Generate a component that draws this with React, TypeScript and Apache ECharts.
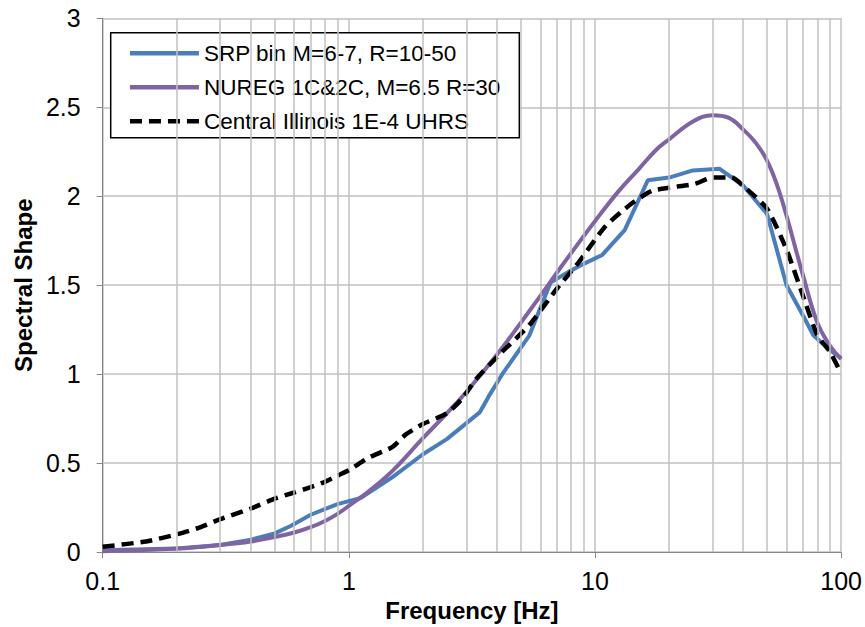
import React, { useEffect, useRef } from "react";
import * as echarts from "echarts";

const seriesNames = [
  "SRP bin M=6-7, R=10-50",
  "NUREG 1C&2C, M=6.5 R=30",
  "Central Illinois 1E-4 UHRS",
];

const srpFreq = [0.1, 0.2, 0.3, 0.4, 0.5, 0.58, 0.7, 0.9, 1.12, 1.5, 2, 2.5, 3.4, 3.7, 4.2, 5.4, 6.6, 7.8, 9, 10.7, 13.2, 16.4, 20, 25, 32, 40, 50, 60, 70, 77, 90, 100];
const srpShape = [0.01, 0.02, 0.04, 0.07, 0.105, 0.147, 0.21, 0.27, 0.305, 0.42, 0.55, 0.635, 0.785, 0.875, 1.0, 1.215, 1.515, 1.575, 1.62, 1.67, 1.81, 2.09, 2.105, 2.145, 2.155, 2.06, 1.9, 1.5, 1.33, 1.22, 1.135, 1.09];

const nuregFreq = [0.1, 0.2, 0.3, 0.4, 0.5, 0.6, 0.7, 0.8, 0.9, 1, 1.2, 1.5, 2, 2.5, 3, 4, 5, 6, 7, 8, 10, 12.5, 15, 17.7, 20, 25, 30, 35, 40, 45, 50, 55, 60, 70, 80, 90, 100];
const nuregShape = [0.005, 0.02, 0.04, 0.06, 0.085, 0.11, 0.14, 0.175, 0.215, 0.26, 0.34, 0.455, 0.64, 0.78, 0.9, 1.11, 1.29, 1.44, 1.57, 1.68, 1.86, 2.03, 2.15, 2.26, 2.32, 2.42, 2.455, 2.44, 2.375, 2.3, 2.2, 2.06, 1.89, 1.555, 1.29, 1.16, 1.085];

const uhrsFreq = [0.1, 0.15, 0.2, 0.25, 0.3, 0.4, 0.5, 0.6, 0.7, 0.8, 0.9, 1, 1.2, 1.5, 1.7, 2, 2.5, 2.9, 3.3, 4.2, 5.4, 7, 8.6, 11, 14, 17, 20.5, 25.5, 30, 36, 40, 50, 60, 70, 80, 90, 100];
const uhrsShape = [0.03, 0.06, 0.1, 0.14, 0.185, 0.245, 0.3, 0.335, 0.365, 0.395, 0.43, 0.46, 0.53, 0.59, 0.66, 0.72, 0.78, 0.865, 0.975, 1.126, 1.275, 1.48, 1.63, 1.83, 1.956, 2.03, 2.05, 2.07, 2.105, 2.105, 2.058, 1.93, 1.7, 1.44, 1.22, 1.126, 1.005];

// minor log grid positions (2..9 in each decade)
const decades = [0.1, 1, 10];
const minorMultipliers = [2, 3, 4, 5, 6, 7, 8, 9];

const FONT = 'Arial, "Liberation Sans", sans-serif';
const GRID_COLOR = "#c0c0c0";
const AXIS_COLOR = "#868686";

function pairs(xs: number[], ys: number[]) {
  return xs.map((x, i) => [x, ys[i]]);
}

export default function App() {
  const ref = useRef<HTMLDivElement>(null);

  useEffect(() => {
    if (!ref.current) return;
    const chart = echarts.init(ref.current, undefined, { renderer: "svg" });
    const minorLines: any[] = [];
    decades.forEach((d) =>
      minorMultipliers.forEach((m) => minorLines.push({ xAxis: +(d * m).toPrecision(6) }))
    );

    chart.setOption({
      animation: false,
      backgroundColor: "#ffffff",
      grid: { left: 102.7, right: 21.7, top: 18.3, bottom: 72.3 },
      legend: {
        orient: "vertical",
        left: 110.7,
        top: 32.7,
        padding: [9, 19, 5, 17],
        itemGap: 11,
        itemWidth: 69,
        itemHeight: 14,
        backgroundColor: "#ffffff",
        borderColor: "#000000",
        borderWidth: 1.5,
        borderRadius: 0,
        data: seriesNames,
        itemStyle: { opacity: 0 },
        lineStyle: { width: 4.5, cap: "butt" },
        textStyle: { fontFamily: FONT, fontSize: 22.5, color: "#000", lineHeight: 22 },
      },
      xAxis: {
        type: "log",
        logBase: 10,
        min: 0.1,
        max: 100,
        name: "Frequency [Hz]",
        nameLocation: "middle",
        nameGap: 42,
        nameTextStyle: { fontFamily: FONT, fontSize: 24, fontWeight: "bold", color: "#000" },
        axisLine: { show: true, lineStyle: { color: AXIS_COLOR, width: 1 } },
        axisTick: { show: true, length: 6, lineStyle: { color: AXIS_COLOR } },
        axisLabel: {
          fontFamily: FONT,
          fontSize: 25,
          color: "#000",
          margin: 16,
          formatter: (v: number) => String(+v.toPrecision(6)),
        },
        splitLine: { show: true, lineStyle: { color: GRID_COLOR, width: 1.5 } },
      },
      yAxis: {
        type: "value",
        min: 0,
        max: 3,
        interval: 0.5,
        name: "Spectral Shape",
        nameLocation: "middle",
        nameGap: 66,
        nameTextStyle: { fontFamily: FONT, fontSize: 24, fontWeight: "bold", color: "#000" },
        axisLine: { show: true, lineStyle: { color: AXIS_COLOR, width: 1 } },
        axisTick: { show: true, length: 6, lineStyle: { color: AXIS_COLOR } },
        axisLabel: { fontFamily: FONT, fontSize: 25, color: "#000", margin: 22 },
        splitLine: { show: true, lineStyle: { color: GRID_COLOR, width: 1.5 } },
      },
      series: [
        {
          name: "_grid",
          type: "line",
          data: [],
          z: 1,
          silent: true,
          markLine: {
            silent: true,
            symbol: ["none", "none"],
            label: { show: false },
            lineStyle: { color: GRID_COLOR, width: 1.5, type: "solid" },
            emphasis: { disabled: true },
            data: minorLines,
          },
        },
        {
          name: seriesNames[0],
          type: "line",
          data: pairs(srpFreq, srpShape),
          showSymbol: false,
          symbol: "none",
          z: 3,
          lineStyle: { color: "#4a7ebb", width: 4 },
          itemStyle: { color: "#4a7ebb" },
        },
        {
          name: seriesNames[1],
          type: "line",
          data: pairs(nuregFreq, nuregShape),
          showSymbol: false,
          symbol: "none",
          smooth: 0.4,
          z: 3,
          lineStyle: { color: "#8064a2", width: 4 },
          itemStyle: { color: "#8064a2" },
        },
        {
          name: seriesNames[2],
          type: "line",
          data: pairs(uhrsFreq, uhrsShape),
          showSymbol: false,
          symbol: "none",
          smooth: 0.2,
          z: 4,
          lineStyle: { color: "#000000", width: 4.5, type: [12, 7] },
          itemStyle: { color: "#000000" },
        },
      ],
    });
    return () => chart.dispose();
  }, []);

  return (
    <div
      ref={ref}
      style={{ position: "absolute", left: 0, top: 0, width: 865, height: 627 }}
    />
  );
}
